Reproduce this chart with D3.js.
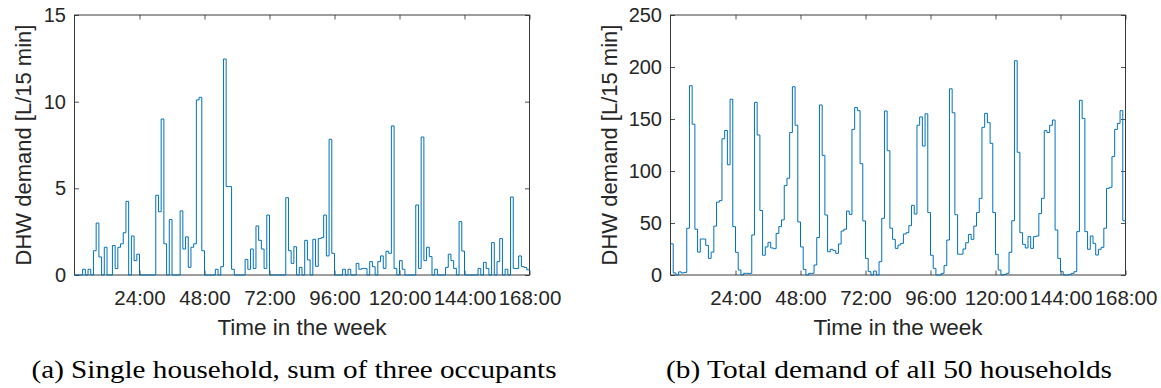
<!DOCTYPE html>
<html>
<head>
<meta charset="utf-8">
<script src="https://cdn.jsdelivr.net/npm/d3@7"></script>
<style>
  body { margin: 0; background: #fff; }
  svg { display: block; }
  .tick text { font-family: "Liberation Sans", Arial, sans-serif; fill: #262626; }
</style>
</head>
<body>
<script>
// hourly DHW demand over one week [L/15 min]
const singleHousehold = [
  0, 0, 0, 0.33, 0, 0.33, 0, 1.4, 3.0, 1.04, 0, 1.6, 0, 0, 1.7, 0.37, 1.6, 1.8, 2.44, 4.25, 0, 2.25, 0.83, 1.2,
  0, 0, 0, 0, 0, 0, 4.6, 3.65, 9.0, 1.8, 0, 3.2, 0, 0, 0, 3.7, 1.5, 2.2, 0.44, 1.6, 1.8, 10.1, 10.25, 1.4,
  0, 0, 0, 0, 0.33, 0, 0.48, 12.46, 5.1, 5.1, 0.33, 0, 0, 0, 0, 0.9, 0.33, 1.5, 0.38, 2.83, 2.0, 1.5, 0.38, 3.46,
  0, 0, 0, 0, 0, 0, 4.46, 1.4, 0.67, 1.63, 0, 0.44, 0, 2.0, 0.87, 0, 2.06, 0.5, 2.1, 2.15, 3.46, 1.1, 7.83, 1.25,
  0, 0, 0, 0.33, 0, 0.33, 0, 0, 0.67, 0.33, 0.38, 0.38, 0, 0.77, 0.48, 0, 0.77, 1.1, 0.38, 1.37, 1.25, 8.6, 0.38, 0,
  0.83, 0.33, 0, 0, 0, 0, 4.04, 0.38, 7.96, 0.83, 1.6, 1.06, 0, 0.33, 0, 0, 0, 0.44, 1.2, 0.83, 0.38, 0, 3.08, 1.38,
  0, 0, 0, 0, 0, 0.38, 0, 0.73, 0.38, 0, 1.87, 0, 0.77, 2.1, 0, 0.33, 0, 4.5, 0.38, 0.38, 1.1, 0.48, 0.44, 0.3
];

const allHouseholds = [
  30, 2, 0, 3, 2, 2.5, 45, 182, 145, 44, 22, 34.6, 34.6, 28.5, 16, 22, 47, 70, 71.5, 131, 139, 106, 169, 46.5,
  21.8, 4.8, 0, 1.6, 1.6, 1.6, 38.5, 166, 134.6, 62, 19, 27, 31.4, 26, 25.3, 40, 46.5, 53, 86, 93, 137, 181, 144, 51,
  27, 5.4, 0, 1.6, 1.6, 9.6, 36, 163.5, 115, 57.7, 22.4, 24.7, 23.4, 20.8, 29.8, 42.3, 44, 61.5, 58.3, 140, 161, 158, 107, 52,
  16, 3.2, 0, 3.8, 0, 12.8, 54.5, 157.7, 119.5, 45, 34.3, 25.6, 28.8, 30.4, 39.4, 40.7, 47.4, 67, 58.6, 144, 152, 124, 155, 60,
  19, 6.4, 0, 0, 1.6, 9, 33.6, 179, 156, 58, 20, 20, 25, 31, 39, 34.3, 47, 60, 73.7, 142, 155.4, 146.5, 126.6, 60,
  19.9, 4.8, 0, 0.6, 1.6, 21.8, 52.2, 206, 118, 40.7, 29.5, 26, 36.9, 25.6, 36.9, 37.5, 59, 73.7, 138.8, 137, 144, 149, 43.3, 16,
  3.2, 0, 0, 0.6, 1.6, 3.2, 41.7, 168, 150.6, 41.7, 24.7, 37.5, 30.4, 19.2, 24.7, 26.6, 45, 83.3, 84.3, 113.8, 140, 145.8, 158, 52.2
];

const xTicks = [24, 48, 72, 96, 120, 144, 168];
const yTicksA = [0, 5, 10, 15];
const yTicksB = [0, 50, 100, 150, 200, 250];
const captions = ["(a) Single household, sum of three occupants", "(b) Total demand of all 50 households"];
const xLabel = "Time in the week";
const yLabel = "DHW demand [L/15 min]";

const width = 1161, height = 388;
const svg = d3.select("body").append("svg")
  .attr("width", width)
  .attr("height", height);

const panels = [
  { values: singleHousehold, yMax: 15, yTicks: yTicksA, x0: 74.5, caption: captions[0], capMid: 294, capLen: 525, ylabX: 23 },
  { values: allHouseholds, yMax: 250, yTicks: yTicksB, x0: 670.5, caption: captions[1], capMid: 889, capLen: 446, ylabX: 609 }
];

const plotW = 455, plotTop = 15, plotBottom = 275;
const fmt = d => d + ":00";

panels.forEach(p => {
  const x = d3.scaleLinear().domain([0, 168]).range([p.x0, p.x0 + plotW]);
  const y = d3.scaleLinear().domain([0, p.yMax]).range([plotBottom, plotTop]);
  const g = svg.append("g");

  // axes, ticks pointing inward on all four sides
  const bx = g.append("g").attr("transform", `translate(0,${plotBottom})`)
    .call(d3.axisBottom(x).tickValues(xTicks).tickFormat(fmt).tickSizeInner(-4.5).tickSizeOuter(0).tickPadding(16));
  g.append("g").attr("transform", `translate(0,${plotTop})`)
    .call(d3.axisTop(x).tickValues(xTicks).tickFormat("").tickSizeInner(-4.5).tickSizeOuter(0));
  const ly = g.append("g").attr("transform", `translate(${p.x0},0)`)
    .call(d3.axisLeft(y).tickValues(p.yTicks).tickSizeInner(-4.5).tickSizeOuter(0).tickPadding(8.5));
  g.append("g").attr("transform", `translate(${p.x0 + plotW},0)`)
    .call(d3.axisRight(y).tickValues(p.yTicks).tickFormat("").tickSizeInner(-4.5).tickSizeOuter(0));

  g.selectAll(".domain").remove();
  g.selectAll(".tick line").attr("stroke", "#262626").attr("stroke-width", 0.8);
  bx.selectAll("text").attr("font-size", 20.5).attr("dy", "0.68em");
  ly.selectAll("text").attr("font-size", 20);

  g.append("rect")
    .attr("x", p.x0).attr("y", plotTop)
    .attr("width", plotW).attr("height", plotBottom - plotTop)
    .attr("fill", "none").attr("stroke", "#262626").attr("stroke-width", 0.9);

  // step line of hourly values
  const pts = p.values.map((v, i) => [i, v]);
  pts.push([p.values.length, p.values[p.values.length - 1]]);
  const line = d3.line().x(d => x(d[0])).y(d => y(d[1])).curve(d3.curveStepAfter);
  g.append("path")
    .attr("d", line(pts))
    .attr("fill", "none")
    .attr("stroke", "#0072BD")
    .attr("stroke-width", 1);

  g.append("text")
    .attr("x", p.x0 + plotW / 2).attr("y", 335)
    .attr("text-anchor", "middle")
    .attr("font-family", "Liberation Sans, Arial, sans-serif")
    .attr("font-size", 22.5).attr("fill", "#262626")
    .text(xLabel);

  g.append("text")
    .attr("transform", `translate(${p.ylabX},${(plotTop + plotBottom) / 2}) rotate(-90)`)
    .attr("text-anchor", "middle").attr("dy", "0.35em")
    .attr("font-family", "Liberation Sans, Arial, sans-serif")
    .attr("font-size", 22).attr("fill", "#262626")
    .text(yLabel);

  g.append("text")
    .attr("x", p.capMid - p.capLen / 2).attr("y", 378)
    .attr("textLength", p.capLen).attr("lengthAdjust", "spacingAndGlyphs")
    .attr("font-family", "Liberation Serif, Times New Roman, serif")
    .attr("font-size", 25).attr("fill", "#000")
    .text(p.caption);
});
</script>
</body>
</html>
